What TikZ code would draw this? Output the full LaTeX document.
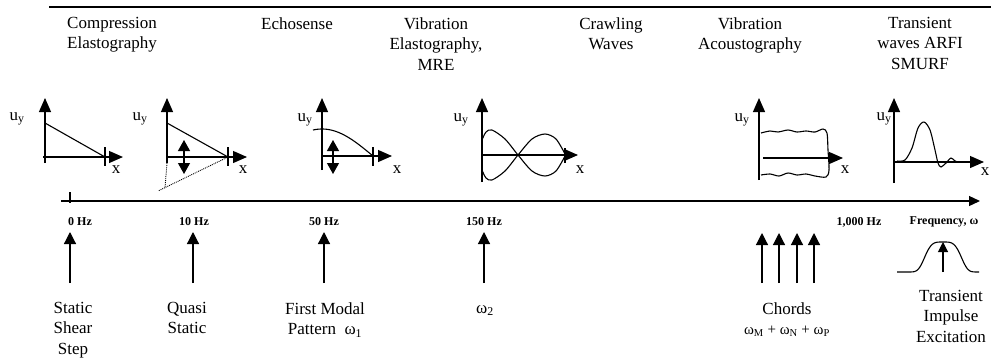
\documentclass[tikz,border=0pt]{standalone}
\usepackage{fontspec}
\setmainfont{Liberation Serif}
\usetikzlibrary{arrows.meta}

\begin{document}
\begin{tikzpicture}[x=1pt,y=-1pt,
    txt/.style={font=\fontsize{17}{20.5}\selectfont, inner sep=0pt, align=center},
    hz/.style={font=\fontsize{12}{14}\selectfont\bfseries, inner sep=0pt},
    ax/.style={line width=1.2pt, -{Triangle[length=14pt,width=12pt]}},
    dbl/.style={line width=1.2pt, {Triangle[length=11pt,width=12pt]}-{Triangle[length=11pt,width=12pt]}},
    uparr/.style={line width=1.2pt, -{Triangle[length=12pt,width=12pt]}},
    crv/.style={line width=1.1pt}]
    \useasboundingbox (0,0) rectangle (991,360);

    % methods along the top
    \draw[line width=1.3pt] (49,7) -- (991,7);
    \node[txt, align=left, anchor=north west] (compr) at (67,17) {Compression\\Elastography};
    \node[txt, anchor=north] (echo) at (297,17) {Echosense};
    \node[txt, anchor=north] (mre) at (436,17) {Vibration\\Elastography,\\MRE};
    \node[txt, anchor=north] (crawl) at (611,17) {Crawling\\Waves};
    \node[txt, anchor=north] (acou) at (750,17) {Vibration\\Acoustography};
    \node[txt, anchor=north] (arfi) at (920,17) {Transient\\waves ARFI\\SMURF};

    % plot 1: static step
    \draw[ax] (45,163) -- (45,98);
    \draw[ax] (43,157) -- (123,157);
    \draw[line width=1.2pt] (105,147) -- (105,166);
    \draw[crv] (45,123) -- (105,157);
    \node[txt] (uy1) at (17,119) {u\textsubscript{y}};
    \node[txt] (x1) at (116,170) {x};

    % plot 2: quasi static
    \draw[ax] (167,163) -- (167,98);
    \draw[ax] (167,157) -- (247,157);
    \draw[line width=1.2pt] (228,147) -- (228,166);
    \draw[crv] (167,123) -- (228,157);
    \draw[dbl] (184,140) -- (184,174);
    \draw[densely dotted, line width=0.9pt] (167,163) -- (165,188);
    \draw[densely dotted, line width=0.9pt] (228,157) -- (158,191);
    \node[txt] (uy2) at (140,119) {u\textsubscript{y}};
    \node[txt] (x2) at (243,170) {x};

    % plot 3: first mode
    \draw[ax] (322,170) -- (322,98);
    \draw[ax] (322,156) -- (392,156);
    \draw[line width=1.2pt] (373,147) -- (373,166);
    \draw[crv, domain=313:373, samples=40, smooth] plot (\x, {156-27*cos(90*(\x-322)/51)});
    \draw[dbl] (333,140) -- (333,174);
    \node[txt] (uy3) at (305,120) {u\textsubscript{y}};
    \node[txt] (x3) at (397,170) {x};

    % plot 4: second mode
    \draw[ax] (482,182) -- (482,98);
    \draw[ax] (482,155) -- (578,155);
    \draw[line width=1.2pt] (565,148) -- (565,163);
    \draw[crv] plot[smooth] coordinates {(482,140) (486,132) (492,130) (505,139) (518,155) (532,171) (545,176) (556,171) (565,156)};
    \draw[crv] plot[smooth] coordinates {(482,170) (486,178) (492,180) (505,171) (518,155) (532,139) (545,134) (556,139) (565,154)};
    \node[txt] (uy4) at (461,120) {u\textsubscript{y}};
    \node[txt] (x4) at (580,170) {x};

    % plot 5: acoustography
    \draw[ax] (759,180) -- (759,98);
    \draw[ax] (763,158) -- (843,158);
    \draw[crv] plot[smooth] coordinates {(761,133) (770,131) (778,132) (788,130) (797,132) (806,131) (815,132) (823,129) (827,133) (828,150) (829,170) (826,177) (815,176) (806,174) (797,175) (788,173) (779,176) (770,174) (761,175)};
    \node[txt] (uy5) at (742,120) {u\textsubscript{y}};
    \node[txt] (x5) at (845,170) {x};

    % plot 6: transient pulse
    \draw[ax] (894,183) -- (894,98);
    \draw[ax] (894,162) -- (984,162);
    \draw[crv] plot[smooth] coordinates {(897,161) (905,160) (912,148) (918,128) (924,122) (930,130) (935,150) (938,163) (941,167) (946,163) (951,158) (955,161) (958,162)};
    \node[txt] (uy6) at (884,119) {u\textsubscript{y}};
    \node[txt] (x6) at (985,172) {x};

    % frequency axis
    \draw[line width=1.3pt, -{Triangle[length=11pt,width=10pt]}] (61,201) -- (980,201);
    \draw[line width=1.2pt] (70,192) -- (70,203);
    \node[hz] (hz0) at (80,222) {0 Hz};
    \node[hz] (hz10) at (194,222) {10 Hz};
    \node[hz] (hz50) at (324,222) {50 Hz};
    \node[hz] (hz150) at (484,222) {150 Hz};
    \node[hz] (hz1000) at (859,222) {1,000 Hz};
    \node[hz] (freq) at (944,222) {Frequency, ω};

    % excitation arrows
    \coordinate (b0) at (70,283);   \coordinate (t0) at (70,232);
    \coordinate (b10) at (193,283); \coordinate (t10) at (193,232);
    \coordinate (b50) at (324,283); \coordinate (t50) at (324,232);
    \coordinate (b150) at (484,283); \coordinate (t150) at (484,232);
    \draw[uparr] (b0) -- (t0);
    \draw[uparr] (b10) -- (t10);
    \draw[uparr] (b50) -- (t50);
    \draw[uparr] (b150) -- (t150);
    \foreach \i/\xx in {m/762, n/779, p/797, q/814} {
        \coordinate (bc\i) at (\xx,283);
        \coordinate (tc\i) at (\xx,233);
        \draw[uparr] (bc\i) -- (tc\i);
    }

    % impulse spectrum
    \draw[crv, domain=897:979, samples=80, smooth] plot (\x, {272-30*exp(-((\x-943)*(\x-943)/400)*((\x-943)*(\x-943)/400))});
    \coordinate (bimp) at (943,272); \coordinate (timp) at (943,242);
    \draw[line width=1.1pt, -{Triangle[length=10pt,width=10pt]}] (bimp) -- (timp);

    % excitation labels
    \node[txt, anchor=north] (stat) at (73,302) {Static\\Shear\\Step};
    \node[txt, anchor=north] (quasi) at (187,302) {Quasi\\Static};
    \node[txt, anchor=north] (modal) at (325,302) {First Modal\\Pattern\enspace ω\textsubscript{1}};
    \node[txt, anchor=base] (om2) at (485,313) {ω\textsubscript{2}};
    \node[txt, anchor=north] (chord) at (787,302) {Chords\\{\fontsize{15}{17}\selectfont ω\textsubscript{M} + ω\textsubscript{N} + ω\textsubscript{P}}};
    \node[txt, anchor=north] (impl) at (951,290) {Transient\\Impulse\\Excitation};
\end{tikzpicture}
\end{document}
